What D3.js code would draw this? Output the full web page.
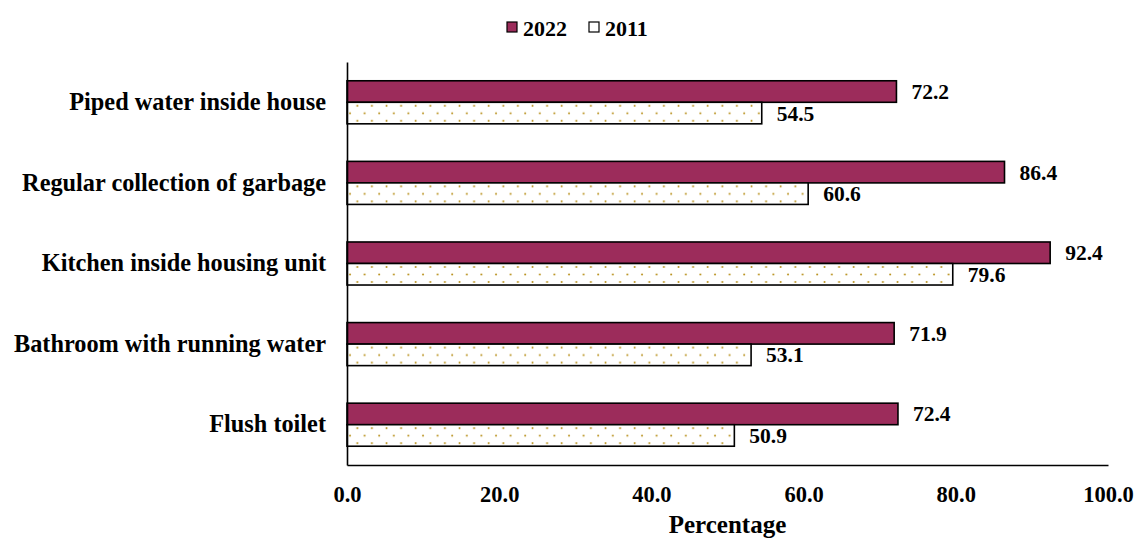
<!DOCTYPE html>
<html>
<head>
<meta charset="utf-8">
<script src="https://cdn.jsdelivr.net/npm/d3@7"></script>
<style>
  body { margin: 0; background: #fff; }
  text { font-family: "Liberation Serif", "Times New Roman", serif; font-weight: bold; fill: #000; }
</style>
</head>
<body>
<div id="chart"></div>
<script>
// data
var categories = ["Piped water inside house", "Regular collection of garbage", "Kitchen inside housing unit", "Bathroom with running water", "Flush toilet"];
var series = ["2022", "2011"];
var values2022 = [72.2, 86.4, 92.4, 71.9, 72.4];
var values2011 = [54.5, 60.6, 79.6, 53.1, 50.9];
var xTicks = [0, 20, 40, 60, 80, 100];

var W = 1138, H = 540;
var margin = { top: 62, right: 30, bottom: 75, left: 347 };
var width = 1108 - margin.left;
var height = 465 - margin.top;

var svg = d3.select("#chart").append("svg").attr("width", W).attr("height", H);

// dotted pattern for 2011
var defs = svg.append("defs");
var pat = defs.append("pattern")
  .attr("id", "dots")
  .attr("patternUnits", "userSpaceOnUse")
  .attr("width", 14.6).attr("height", 15);
pat.append("rect").attr("width", 14.6).attr("height", 15).attr("fill", "#fff");
pat.append("circle").attr("cx", 3).attr("cy", 2.5).attr("r", 1).attr("fill", "#b8901a");
pat.append("circle").attr("cx", 10.3).attr("cy", 10).attr("r", 1).attr("fill", "#b8901a");

var fills = { "2022": "#9c2c5b", "2011": "url(#dots)" };

var g = svg.append("g").attr("transform", `translate(${margin.left},${margin.top})`);

var x = d3.scaleLinear().domain([0, 100]).range([0, width]);
var y = d3.scaleBand().domain(categories).range([0, height]).paddingInner(0.466).paddingOuter(0.233);
var ySub = d3.scaleBand().domain(series).range([0, y.bandwidth()]);

// rows of data
var rows = categories.map((c, i) => ({ cat: c, vals: [
  { key: "2022", value: values2022[i] },
  { key: "2011", value: values2011[i] }
] }));

var groups = g.selectAll(".grp").data(rows).enter().append("g")
  .attr("transform", d => `translate(0,${y(d.cat)})`);

groups.selectAll("rect").data(d => d.vals).enter().append("rect")
  .attr("x", 0)
  .attr("y", d => ySub(d.key))
  .attr("width", d => x(d.value))
  .attr("height", ySub.bandwidth())
  .attr("fill", d => fills[d.key])
  .attr("stroke", "#000")
  .attr("stroke-width", 1.6);

groups.selectAll(".lbl").data(d => d.vals).enter().append("text")
  .attr("x", d => x(d.value) + 15)
  .attr("y", d => ySub(d.key) + ySub.bandwidth() / 2)
  .attr("dy", "0.35em")
  .style("font-size", "21.5px")
  .text(d => d.value.toFixed(1));

// axes
var xAxis = g.append("g").attr("transform", `translate(0,${height})`)
  .call(d3.axisBottom(x).tickValues(xTicks).tickSize(0).tickPadding(21).tickFormat(d3.format(".1f")));
xAxis.select(".domain").attr("stroke", "#000").attr("stroke-width", 1.6);
xAxis.selectAll("text").style("font-size", "22.5px");

var yAxis = g.append("g")
  .call(d3.axisLeft(y).tickSize(0).tickPadding(21));
yAxis.select(".domain").attr("stroke", "#000").attr("stroke-width", 1.6);
yAxis.selectAll("text").style("font-size", "24.3px");

// x axis title
svg.append("text")
  .attr("x", margin.left + width / 2)
  .attr("y", 533)
  .attr("text-anchor", "middle")
  .style("font-size", "25px")
  .text("Percentage");

// legend
var legend = svg.append("g").attr("transform", "translate(507,27)");
var items = legend.selectAll("g").data(series).enter().append("g")
  .attr("transform", (d, i) => `translate(${i * 82},0)`);
items.append("rect")
  .attr("x", 0).attr("y", -5).attr("width", 10).attr("height", 10)
  .attr("fill", d => d === "2022" ? fills[d] : "#fff")
  .attr("stroke", "#000").attr("stroke-width", 1.2);
items.append("text")
  .attr("x", 16).attr("y", 1).attr("dy", "0.35em")
  .style("font-size", "22px")
  .text(d => d);
</script>
</body>
</html>
